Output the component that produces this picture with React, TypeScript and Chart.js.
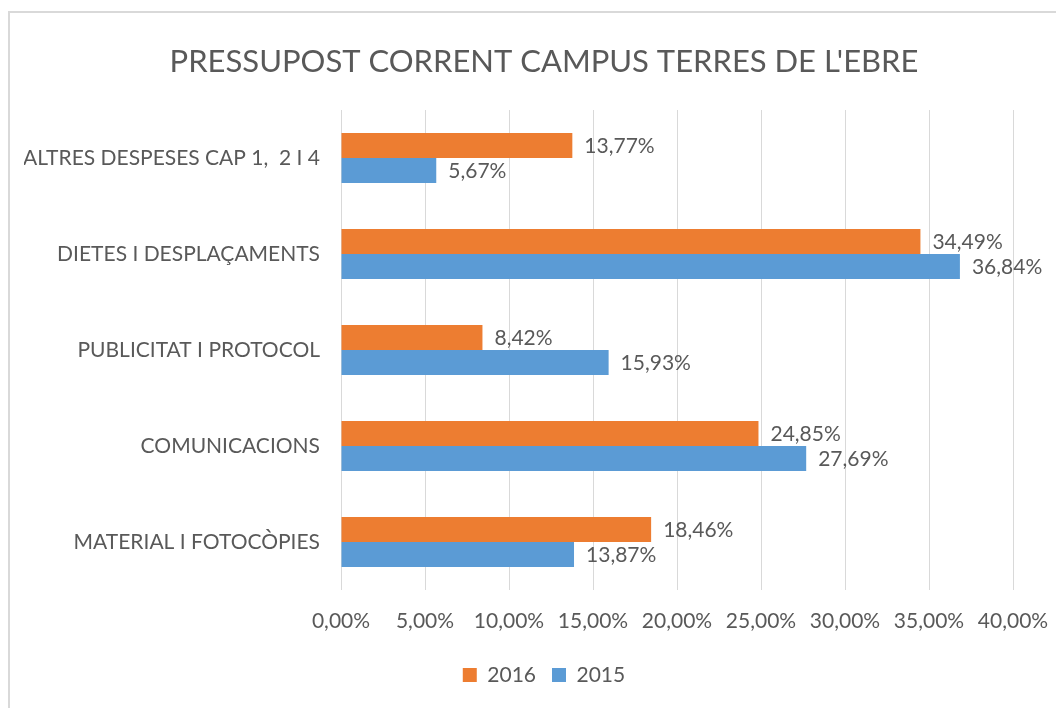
import React, { useEffect, useRef } from "react";
import { Chart, registerables } from "chart.js";

Chart.register(...registerables);

const categories = [
  "ALTRES DESPESES CAP 1,  2 I 4",
  "DIETES I DESPLAÇAMENTS",
  "PUBLICITAT I PROTOCOL",
  "COMUNICACIONS",
  "MATERIAL I FOTOCÒPIES",
];
const series2016 = [13.77, 34.49, 8.42, 24.85, 18.46];
const series2015 = [5.67, 36.84, 15.93, 27.69, 13.87];
const seriesNames = ["2016", "2015"];
const titleText = "PRESSUPOST CORRENT CAMPUS TERRES DE L'EBRE";

const FONT = "Lato, 'Open Sans', sans-serif";
const TEXT = "#595959";
const GRID = "#d9d9d9";

const fmt = (v: number) => v.toFixed(2).replace(".", ",") + "%";

const bgPlugin = {
  id: "bg",
  beforeDraw(chart: any) {
    const { ctx, width, height } = chart;
    ctx.save();
    ctx.fillStyle = "#ffffff";
    ctx.fillRect(0, 0, width, height);
    ctx.strokeStyle = GRID;
    ctx.lineWidth = 2;
    ctx.beginPath();
    ctx.moveTo(1, height + 5);
    ctx.lineTo(1, 4);
    ctx.lineTo(width + 5, 4);
    ctx.stroke();
    ctx.restore();
  },
};

const labelPlugin = {
  id: "barLabels",
  afterDatasetsDraw(chart: any) {
    const { ctx } = chart;
    ctx.save();
    ctx.font = `21px ${FONT}`;
    ctx.fillStyle = TEXT;
    ctx.textAlign = "left";
    ctx.textBaseline = "middle";
    chart.data.datasets.forEach((ds: any, i: number) => {
      const meta = chart.getDatasetMeta(i);
      meta.data.forEach((el: any, j: number) => {
        ctx.fillText(fmt(ds.data[j]), el.x + 12, el.y + 1);
      });
    });
    ctx.restore();
  },
};

export default function App() {
  const ref = useRef<HTMLCanvasElement>(null);
  useEffect(() => {
    if (!ref.current) return;
    const chart = new Chart(ref.current, {
      type: "bar",
      data: {
        labels: categories,
        datasets: [
          {
            label: seriesNames[0],
            data: series2016,
            backgroundColor: "#ED7D31",
            categoryPercentage: 0.52,
            barPercentage: 1,
          },
          {
            label: seriesNames[1],
            data: series2015,
            backgroundColor: "#5B9BD5",
            categoryPercentage: 0.52,
            barPercentage: 1,
          },
        ],
      },
      options: {
        indexAxis: "y",
        responsive: false,
        animation: false,
        layout: { padding: { left: 16, right: 0, top: 0, bottom: 12.5 } },
        scales: {
          x: {
            min: 0,
            max: 40,
            ticks: {
              stepSize: 5,
              callback: (v: any) => fmt(Number(v)),
              color: TEXT,
              font: { family: FONT, size: 21 },
              padding: 19,
              maxRotation: 0,
            },
            grid: { color: GRID, drawTicks: false },
            border: { display: false },
            afterFit: (s: any) => {
              s.height = 58.5;
              s.paddingRight = 51;
            },
          },
          y: {
            ticks: {
              color: TEXT,
              font: { family: FONT, size: 21 },
              padding: 21,
            },
            grid: { display: false, drawTicks: false },
            border: { display: false },
            afterFit: (s: any) => {
              s.width = 317;
            },
          },
        },
        plugins: {
          title: {
            display: true,
            text: titleText,
            color: TEXT,
            font: { family: FONT, size: 31, weight: "normal" },
            padding: { top: 35, bottom: 29.8 },
          },
          legend: {
            position: "bottom",
            labels: {
              color: TEXT,
              font: { family: FONT, size: 21 },
              boxWidth: 14,
              boxHeight: 14,
              padding: 16,
            },
          },
          tooltip: { enabled: false },
        },
      },
      plugins: [bgPlugin, labelPlugin],
    } as any);
    return () => chart.destroy();
  }, []);
  return (
    <div style={{ width: 1056, height: 700 }}>
      <canvas ref={ref} width={1056} height={700} style={{ display: "block" }} />
    </div>
  );
}
